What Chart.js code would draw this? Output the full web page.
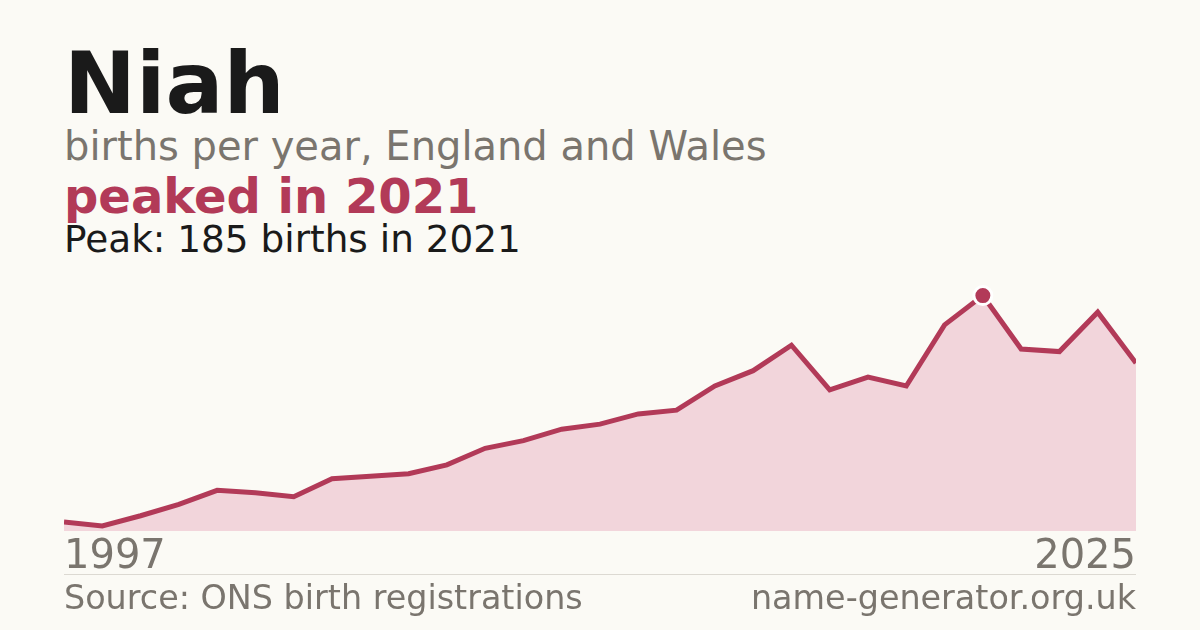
<!DOCTYPE html>
<html>
<head>
<meta charset="utf-8">
<script src="https://cdn.jsdelivr.net/npm/chart.js@4/dist/chart.umd.min.js"></script>
<style>
  html, body { margin:0; padding:0; }
  body { width:1200px; height:630px; background:#fbfaf5; position:relative; overflow:hidden;
         font-family:"DejaVu Sans", sans-serif; }
  .t { position:absolute; left:64px; line-height:1; white-space:nowrap; }
  #name { top:40px; font-size:86px; font-weight:bold; color:#1a1a1a; }
  #sub { top:126px; font-size:40px; color:#7a756e; }
  #hl { top:172px; font-size:48px; font-weight:bold; color:#b23a58; }
  #peak { top:221px; font-size:37.4px; color:#1a1a1a; }
  #wrap { position:absolute; left:61px; top:260px; width:1078px; height:325px; }
  #rule { position:absolute; left:64px; width:1072px; top:574px; height:1px; background:#dcd9d2; }
  .foot { position:absolute; top:581px; font-size:33.4px; color:#7a756e; line-height:1; white-space:nowrap; }
  #src { left:64px; }
  #site { right:64px; }
</style>
</head>
<body>
<div class="t" id="name">Niah</div>
<div class="t" id="sub">births per year, England and Wales</div>
<div class="t" id="hl">peaked in 2021</div>
<div class="t" id="peak">Peak: 185 births in 2021</div>
<div id="rule"></div>
<div id="wrap"><canvas id="c"></canvas></div>
<div class="foot" id="src">Source: ONS birth registrations</div>
<div class="foot" id="site">name-generator.org.uk</div>
<script>
const years = [1997,1998,1999,2000,2001,2002,2003,2004,2005,2006,2007,2008,2009,2010,2011,2012,2013,2014,2015,2016,2017,2018,2019,2020,2021,2022,2023,2024,2025];
const births = [7,4,12,21,32,30,27,41,43,45,52,65,71,80,84,92,95,114,126,146,111,121,114,162,185,143,141,172,132];
const tickLabels = ["1997","2025"];

const accent = "#b23a58";
const peakIdx = births.indexOf(Math.max(...births));
const radii = births.map((v,i) => i === peakIdx ? 9 : 0);

new Chart(document.getElementById("c"), {
  type: "line",
  data: {
    labels: years.map(String),
    datasets: [{
      data: births,
      borderColor: accent,
      borderWidth: 5,
      backgroundColor: "#f2d5db",
      fill: "origin",
      tension: 0,
      pointRadius: radii,
      pointHoverRadius: radii,
      pointBackgroundColor: accent,
      pointBorderColor: "#ffffff",
      pointBorderWidth: 3,
      clip: {left: 0, right: 0, top: 20, bottom: 0}
    }]
  },
  options: {
    responsive: true,
    maintainAspectRatio: false,
    animation: false,
    layout: { padding: 0 },
    plugins: { legend: { display: false }, tooltip: { enabled: false } },
    scales: {
      x: {
        offset: false,
        grid: { display: false, drawTicks: false },
        border: { display: false },
        ticks: {
          autoSkip: false,
          maxRotation: 0,
          align: "inner",
          padding: 3,
          color: "#7a756e",
          font: { family: "DejaVu Sans", size: 40, lineHeight: 1.2 },
          callback: function(val, idx) {
            const lab = this.getLabelForValue(val);
            return tickLabels.includes(lab) ? lab : "";
          }
        }
      },
      y: { display: false, min: 0, max: 213 }
    }
  }
});
</script>
</body>
</html>
